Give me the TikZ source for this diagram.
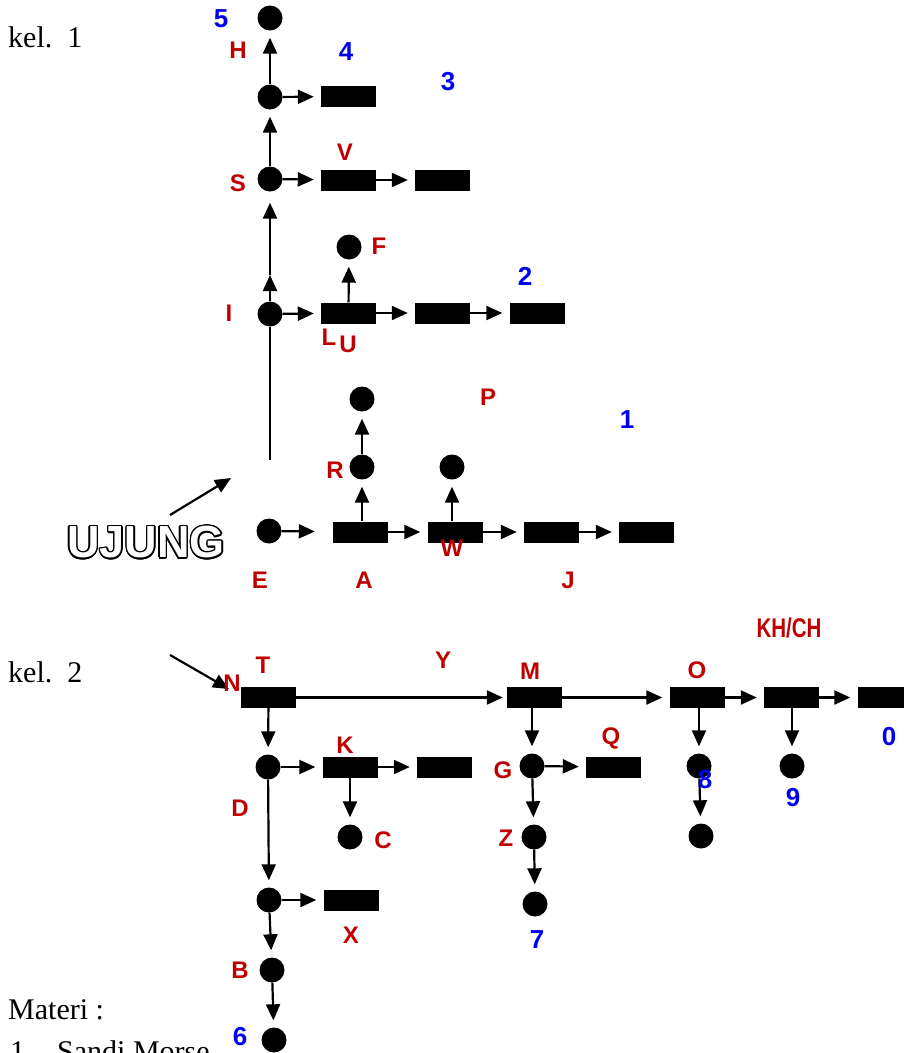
\documentclass[tikz,border=0pt]{standalone}
\usepackage{fontspec}
\setmainfont{Liberation Serif}
\newfontfamily\lblfont{Liberation Sans}
\newfontfamily\narrowfont[FakeStretch=0.76]{Liberation Sans}
\usepackage[copies]{contour}
\contourlength{1.3pt}
\usetikzlibrary{arrows.meta,positioning}

\definecolor{lblred}{RGB}{192,0,0}
\definecolor{lblblue}{RGB}{0,0,240}

\tikzset{
  dot/.style={circle, fill=black, inner sep=0pt, minimum size=25pt},
  bar/.style={rectangle, fill=black, inner sep=0pt, minimum width=55pt, minimum height=21pt},
  link/.style={line width=2.2pt, -{Triangle[length=16pt,width=14pt]}, shorten >=7pt},
  letter/.style={font=\lblfont\bfseries\fontsize{24}{26}\selectfont, text=lblred, inner sep=0pt},
  digit/.style={font=\lblfont\bfseries\fontsize{26}{28}\selectfont, text=lblblue, inner sep=0pt},
  plain/.style={font=\fontsize{30}{34}\selectfont, inner sep=0pt, anchor=base west}
}

\begin{document}
\begin{tikzpicture}[x=1pt, y=-1pt]
  \clip (0,0) rectangle (904,1053);

  % ---- kel. 1 ----
  \node[plain] (kel1) at (8,47) {kel.\ \ 1};

  % dots and bars, upward branch
  \node[dot] (dH) at (270,18) {};
  \node[dot] (d4) at (270,97) {};
  \node[bar] (b4) at (348.5,96.5) {};
  \node[dot] (dS) at (270,179) {};
  \node[bar] (bV) at (348.5,180) {};
  \node[bar] (b3) at (442.5,180) {};
  \node[dot] (dI) at (270,314) {};
  \node[bar] (bL) at (348.5,313) {};
  \node[bar] (bU) at (442.5,313) {};
  \node[bar] (b2) at (537,313) {};
  \node[dot] (dF) at (349,247) {};
  \coordinate (imid) at (270,275);
  \coordinate (ibot) at (270,460);

  % bottom row
  \node[dot] (dE) at (269,531) {};
  \node[bar] (bA) at (360.5,532) {};
  \node[bar] (bW) at (455,532) {};
  \node[bar] (bJ) at (551.5,532) {};
  \node[bar] (b1) at (646.5,532) {};
  \node[dot] (dR) at (362,467) {};
  \node[dot] (dP) at (362,399) {};
  \node[dot] (dW) at (452,467) {};

  \draw[link] (d4) -- (dH);
  \draw[link] (dS) -- (d4);
  \draw[link, shorten >=0pt] (dI) -- (imid);
  \draw[link, shorten >=11pt] (imid) -- (dS);
  \draw[line width=2.2pt] (ibot) -- (dI);
  \draw[link] (d4) -- (b4);
  \draw[link] (dS) -- (bV);
  \draw[link] (bV) -- (b3);
  \draw[link] (dI) -- (bL);
  \draw[link] (bL) -- (bU);
  \draw[link] (bU) -- (b2);
  \draw[link] (bL) -- (dF);
  \draw[link, shorten >=18pt] (dE) -- (bA);
  \draw[link] (bA) -- (bW);
  \draw[link] (bW) -- (bJ);
  \draw[link] (bJ) -- (b1);
  \draw[link] (bA.north -| dR) -- (dR);
  \draw[link] (dR) -- (dP);
  \draw[link] (bW.north -| dW) -- (dW);

  % UJUNG pointer
  \node[font=\lblfont\bfseries\fontsize{45}{48}\selectfont, inner sep=0pt] (ujung) at (146,543)
    {{\color{white}\contour{black}{UJUNG}}};
  \coordinate (ujA) at (170,515);
  \coordinate (ujB) at (231,478);
  \draw[link, shorten >=0pt] (ujA) -- (ujB);

  % labels kel. 1
  \node[digit] (n5) at (221,19) {5};
  \node[letter] (lH) at (238,50) {H};
  \node[digit] (n4) at (346,52) {4};
  \node[digit] (n3) at (448,82) {3};
  \node[letter] (lV) at (345,152) {V};
  \node[letter] (lS) at (238,183) {S};
  \node[letter] (lF) at (379,246) {F};
  \node[digit] (n2) at (525,276) {2};
  \node[letter] (lI) at (229,313) {I};
  \node[letter] (lL) at (329,337) {L};
  \node[letter] (lU) at (348,344) {U};
  \node[letter] (lP) at (488,397) {P};
  \node[digit] (n1) at (627,420) {1};
  \node[letter] (lR) at (335,470) {R};
  \node[letter] (lW) at (452,548) {W};
  \node[letter] (lE) at (260,580) {E};
  \node[letter] (lA) at (364,580) {A};
  \node[letter] (lJ) at (568,580) {J};

  % ---- kel. 2 ----
  \node[plain] (kel2) at (8,682) {kel.\ \ 2};

  \node[bar] (bT) at (268.5,697.5) {};
  \node[bar] (bM) at (534.5,697.5) {};
  \node[bar] (bO) at (697,697.5) {};
  \node[bar] (bKH) at (791.5,697.5) {};
  \node[bar] (b0) at (885,697.5) {};

  \node[dot] (dD) at (268,767) {};
  \node[bar] (bK) at (350,767) {};
  \node[bar] (bK2) at (444.5,767) {};
  \node[dot] (dC) at (350,837) {};
  \node[dot] (dX) at (269,900) {};
  \node[bar] (bX) at (351,900) {};
  \node[dot] (dB) at (272,970) {};
  \node[dot] (d6) at (274,1040) {};

  \node[dot] (dG) at (532,766) {};
  \node[bar] (bQ) at (613.5,767) {};
  \node[dot] (dZ) at (534,837) {};
  \node[dot] (d7) at (535,904) {};
  \node[dot] (d8) at (699,766) {};
  \node[dot] (d8b) at (701,836) {};
  \node[dot] (d9) at (792,766) {};

  \coordinate (inA) at (170,655);
  \coordinate (inB) at (229,689);
  \draw[link, shorten >=0pt] (inA) -- (inB);

  \draw[link, shorten >=4pt] (bT) -- (bM);
  \draw[link] (bM) -- (bO);
  \draw[link] (bO) -- (bKH);
  \draw[link] (bKH) -- (b0);
  \draw[link] (bT) -- (dD);
  \draw[link] (dD) -- (bK);
  \draw[link] (bK) -- (bK2);
  \draw[link] (bK) -- (dC);
  \draw[link] (dD) -- (dX);
  \draw[link] (dX) -- (bX);
  \draw[link] (dX) -- (dB);
  \draw[link] (dB) -- (d6);
  \draw[link] (bM.south -| dG) -- (dG);
  \draw[link] (dG) -- (bQ);
  \draw[link] (dG) -- (dZ);
  \draw[link] (dZ) -- (d7);
  \draw[link] (bO.south -| d8) -- (d8);
  \draw[link] (d8) -- (d8b);
  \draw[link] (bKH.south -| d9) -- (d9);

  % labels kel. 2
  \node[letter, font=\narrowfont\bfseries\fontsize{27}{29}\selectfont] (lKH) at (789,628) {KH/CH};
  \node[letter] (lT) at (263,665) {T};
  \node[letter] (lN) at (232,683) {N};
  \node[letter] (lY) at (443,660) {Y};
  \node[letter] (lM) at (530,671) {M};
  \node[letter] (lO) at (697,670) {O};
  \node[digit] (n0) at (889,737) {0};
  \node[letter] (lK) at (345,745) {K};
  \node[letter] (lQ) at (611,738) {Q};
  \node[letter] (lG) at (503,770) {G};
  \node[digit] (n8) at (705,780) {8};
  \node[digit] (n9) at (793,798) {9};
  \node[letter] (lD) at (240,808) {D};
  \node[letter] (lC) at (383,840) {C};
  \node[letter] (lZ) at (506,838) {Z};
  \node[letter] (lX) at (351,935) {X};
  \node[digit] (n7) at (537,940) {7};
  \node[letter] (lB) at (240,970) {B};
  \node[digit] (n6) at (240,1037) {6};

  % ---- materi ----
  \node[plain] (materi) at (8,1019) {Materi :};
  \node[plain] (item1) at (10,1061) {1.};
  \node[plain] (morse) at (57,1061) {Sandi Morse};
\end{tikzpicture}
\end{document}
